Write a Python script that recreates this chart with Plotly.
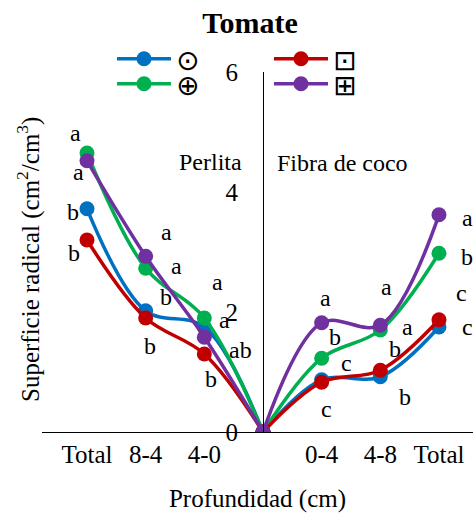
import plotly.graph_objects as go

# Depth categories: left half = Perlita (read outward from the centre), right half = Fibra de coco
perlita_cats = ["Total", "8-4", "4-0"]
fibra_cats = ["0-4", "4-8", "Total"]

# Root surface (cm2/cm3) per treatment; every curve meets 0 at the centre
perlita_blue = [3.72, 2.02, 1.75]
perlita_red = [3.20, 1.90, 1.30]
perlita_green = [4.65, 2.73, 1.90]
perlita_purple = [4.52, 2.93, 1.58]

fibra_blue = [0.87, 0.92, 1.75]
fibra_red = [0.83, 1.03, 1.87]
fibra_green = [1.23, 1.70, 2.98]
fibra_purple = [1.82, 1.78, 3.62]

# Significance letters (Total, 8-4, 4-0 | 0-4, 4-8, Total), top to bottom
perlita_letters = [["a", "a", "b", "b"], ["a", "a", "b", "b"], ["a", "a", "ab", "b"]]
fibra_letters = [["a", "b", "c", "c"], ["a", "a", "b", "b"], ["a", "b", "c", "c"]]

series_names = ["\u2299", "\u22a1", "\u2295", "\u229e"]
colors = ["#0070C0", "#C00000", "#00B050", "#7030A0"]
legend_rows = ["legend", "legend", "legend2", "legend2"]

x_left = [-3, -2, -1, 0]
x_right = [0, 1, 2, 3]

FONT = "Liberation Serif, Times New Roman, serif"

fig = go.Figure()

series = [
    (perlita_blue, fibra_blue, 0),
    (perlita_green, fibra_green, 2),
    (perlita_red, fibra_red, 1),
    (perlita_purple, fibra_purple, 3),
]
for left_vals, right_vals, idx in series:
    for half, (xs, ys) in enumerate([(x_left, left_vals + [0]), (x_right, [0] + right_vals)]):
        fig.add_trace(go.Scatter(
            x=xs, y=ys, mode="lines+markers",
            line=dict(color=colors[idx], width=3.5, shape="spline"),
            marker=dict(color=colors[idx], size=15),
            name=series_names[idx], legendgroup=series_names[idx],
            legend=legend_rows[idx], legendrank=idx + 1, showlegend=(half == 0),
        ))

# letter placement (data units) around each depth column
left_label_pos = [
    [(-3.20, 4.98), (-3.15, 4.33), (-3.24, 3.67), (-3.22, 2.98)],
    [(-1.64, 3.33), (-1.48, 2.77), (-1.65, 2.25), (-1.93, 1.43)],
    [(-0.77, 2.50), (-0.66, 1.87), (-0.38, 1.37), (-0.89, 0.88)],
]
right_label_pos = [
    [(1.07, 2.23), (1.23, 1.58), (1.43, 1.15), (1.09, 0.38)],
    [(2.10, 2.42), (2.47, 1.75), (2.25, 1.38), (2.42, 0.58)],
    [(3.48, 3.57), (3.48, 2.92), (3.39, 2.32), (3.48, 1.75)],
]
annotations = []
for letters, positions in [(perlita_letters, left_label_pos), (fibra_letters, right_label_pos)]:
    for col_letters, col_pos in zip(letters, positions):
        for letter, (lx, ly) in zip(col_letters, col_pos):
            annotations.append(dict(x=lx, y=ly, xref="x", yref="y", text=letter,
                                    showarrow=False, font=dict(family=FONT, size=24, color="black")))

W, H = 473, 519
ML, MR, MT, MB = 42, 0, 72, 87
pw, ph = W - ML - MR, H - MT - MB

annotations += [
    dict(x=-0.90, y=4.50, xref="x", yref="y", text="Perlita", showarrow=False,
         font=dict(family=FONT, size=24, color="black")),
    dict(x=1.35, y=4.48, xref="x", yref="y", text="Fibra de coco", showarrow=False,
         font=dict(family=FONT, size=24, color="black")),
    dict(x=(28 - ML) / pw, y=(H - MB - 260) / ph, xref="paper", yref="paper",
         xanchor="center", yanchor="middle",
         text="Superficie radical (cm<sup>2</sup>/cm<sup>3</sup>)",
         textangle=-90, showarrow=False, font=dict(family=FONT, size=25, color="black")),
]

x_range = [-3.767, 3.58]
y_axis_pos = (0 - x_range[0]) / (x_range[1] - x_range[0])

legend_style = dict(orientation="h", xref="container", yref="container",
                    xanchor="left", yanchor="middle", entrywidth=88, itemwidth=54,
                    bgcolor="rgba(0,0,0,0)",
                    font=dict(family="DejaVu Sans", size=28, color="black"))

fig.update_layout(
    width=W, height=H,
    margin=dict(l=ML, r=MR, t=MT, b=MB, autoexpand=False),
    paper_bgcolor="white", plot_bgcolor="white",
    title=dict(text="<b>Tomate</b>", x=250 / W, xanchor="center", y=1 - 22 / H, yanchor="middle",
               font=dict(family=FONT, size=30, color="black")),
    font=dict(family=FONT, size=24, color="black"),
    xaxis=dict(range=x_range, tickvals=[-3, -2, -1, 1, 2, 3],
               ticktext=perlita_cats + fibra_cats,
               showline=True, linecolor="black", linewidth=1, showgrid=False, zeroline=False,
               ticks="", tickfont=dict(family=FONT, size=25, color="black"),
               title=dict(text="Profundidad (cm)", font=dict(family=FONT, size=25, color="black"),
                          standoff=22)),
    yaxis=dict(range=[0, 6], tickvals=[0, 2, 4, 6], anchor="free", position=y_axis_pos,
               showline=True, linecolor="black", linewidth=1, showgrid=False, zeroline=False,
               ticks="", ticklabelstandoff=20, tickfont=dict(family=FONT, size=25, color="black")),
    legend=dict(legend_style, x=112 / W, y=1 - 59 / H),
    legend2=dict(legend_style, x=112 / W, y=1 - 84 / H),
    annotations=annotations,
    showlegend=True,
)

fig.write_html("out.html")
